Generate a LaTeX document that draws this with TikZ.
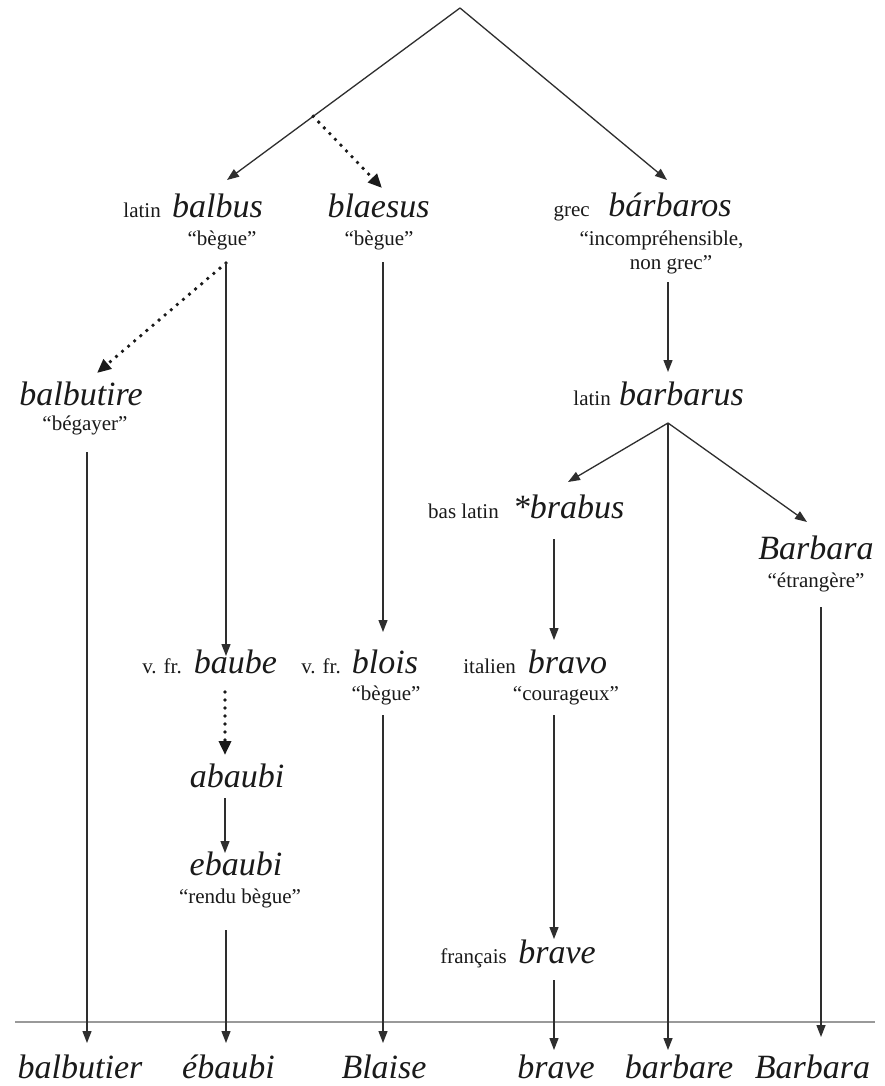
\documentclass[tikz,border=0pt]{standalone}
\usepackage{fontspec}
\setmainfont{Liberation Serif}
\usetikzlibrary{arrows.meta,calc}
\definecolor{ink}{HTML}{1A1A1A}
\definecolor{wire}{HTML}{2E2E2E}
\tikzset{
  word/.style={font=\fontsize{34}{40}\selectfont\itshape, text=ink, inner sep=0pt, anchor=base},
  gloss/.style={font=\fontsize{21}{25}\selectfont, text=ink, inner sep=0pt, anchor=base},
  lang/.style={gloss, anchor=base east},
  arr/.style={draw=wire, line width=1.3pt, -{Triangle[length=12pt,width=9pt]}},
  dots/.style={draw=ink, line width=3.8pt, line cap=round, dash pattern=on 0pt off 8pt,
    -{Triangle[length=14pt,width=12pt]}},
  rule/.style={draw=gray!80, line width=1.8pt}
}
\begin{document}
\begin{tikzpicture}[x=1pt,y=-1pt]
\fill[white] (0,0) rectangle (885,1086);
\useasboundingbox (0,0) rectangle (885,1086);

% ---- first level
\node[word] (balbus) at (217.5,217) {balbus};
\node[lang] (balbus-l) at (161,217) {latin};
\node[gloss] (balbus-g) at (222,245) {“bègue”};
\node[word] (blaesus) at (378.5,217) {blaesus};
\node[gloss] (blaesus-g) at (379,245) {“bègue”};
\node[word] (barbaros) at (670,216) {bárbaros};
\node[lang] (barbaros-l) at (590,216) {grec};
\node[gloss] (barbaros-g1) at (661.5,245) {“incompréhensible,};
\node[gloss] (barbaros-g2) at (671,269) {non grec”};

% ---- second level
\node[word] (balbutire) at (81,405) {balbutire};
\node[gloss] (balbutire-g) at (85,430) {“bégayer”};
\node[word] (barbarus) at (681.5,405) {barbarus};
\node[lang] (barbarus-l) at (611,405) {latin};

\node[word] (brabus) at (568.5,518) {*brabus};
\node[lang] (brabus-l) at (499,518) {bas latin};
\node[word] (Barbara) at (816,559) {Barbara};
\node[gloss] (Barbara-g) at (816,587) {“étrangère”};

% ---- old French / Italian
\node[word] (baube) at (235.5,673) {baube};
\node[lang] (baube-l) at (182,673) {v. fr.};
\node[word] (blois) at (385,673) {blois};
\node[lang] (blois-l) at (341,673) {v. fr.};
\node[gloss] (blois-g) at (386,700) {“bègue”};
\node[word] (bravo) at (567.5,673) {bravo};
\node[lang] (bravo-l) at (516,673) {italien};
\node[gloss] (bravo-g) at (566,700) {“courageux”};

\node[word] (abaubi) at (237,787) {abaubi};
\node[word] (ebaubi) at (236,875) {ebaubi};
\node[gloss] (ebaubi-g) at (240,903) {“rendu bègue”};
\node[word] (brave) at (557,963) {brave};
\node[lang] (brave-l) at (507,963) {français};

% ---- modern French
\node[word] (m-balbutier) at (80,1078) {balbutier};
\node[word] (m-ebaubi) at (228.5,1078) {ébaubi};
\node[word] (m-Blaise) at (384,1078) {Blaise};
\node[word] (m-brave) at (556,1078) {brave};
\node[word] (m-barbare) at (679,1078) {barbare};
\node[word] (m-Barbara) at (812.5,1078) {Barbara};

% ---- connector end points
\coordinate (root) at (460,8);
\coordinate (balbus-in) at (227,180);
\coordinate (barbaros-in) at (667,180);
\coordinate (blaesus-in) at (382,188);
\coordinate (balbus-out) at (226,263);
\coordinate (balbutire-in) at (97,373);
\coordinate (baube-in) at (226,656);
\coordinate (blaesus-out) at (383,262);
\coordinate (blois-in) at (383,632);
\coordinate (barbaros-out) at (668,282);
\coordinate (barbarus-in) at (668,372);
\coordinate (barbarus-out) at (668,423);
\coordinate (brabus-in) at (568,482);
\coordinate (Barbara-in) at (807,522);
\coordinate (brabus-out) at (554,539);
\coordinate (bravo-in) at (554,640);
\coordinate (bravo-out) at (554,715);
\coordinate (brave-in) at (554,939);
\coordinate (brave-out) at (554,980);
\coordinate (blois-out) at (383,715);
\coordinate (baube-out) at (225,692);
\coordinate (abaubi-in) at (225,755);
\coordinate (abaubi-out) at (225,798);
\coordinate (ebaubi-in) at (225,853);
\coordinate (ebaubi-out) at (226,930);
\coordinate (balbutire-out) at (87,452);
\coordinate (Barbara-out) at (821,607);
\coordinate (m-balbutier-in) at (87,1043);
\coordinate (m-ebaubi-in) at (226,1043);
\coordinate (m-Blaise-in) at (383,1043);
\coordinate (m-brave-in) at (554,1050);
\coordinate (m-barbare-in) at (668,1050);
\coordinate (m-Barbara-in) at (821,1037);
\coordinate (rule-a) at (15,1022);
\coordinate (rule-b) at (875,1022);

% ---- the time line of modern French
\draw[rule] (rule-a) -- (rule-b);

% ---- connectors
\draw[arr] (root) -- (balbus-in);
\draw[arr] (root) -- (barbaros-in);
\draw[dots] ($(root)!0.63!(balbus-in)$) -- (blaesus-in);

\draw[dots] (balbus-out) -- (balbutire-in);
\draw[arr] (balbus-out) -- (baube-in);
\draw[arr] (blaesus-out) -- (blois-in);
\draw[arr] (barbaros-out) -- (barbarus-in);

\draw[arr] (barbarus-out) -- (brabus-in);
\draw[arr] (barbarus-out) -- (Barbara-in);
\draw[arr] (barbarus-out) -- (m-barbare-in);

\draw[arr] (brabus-out) -- (bravo-in);
\draw[arr] (bravo-out) -- (brave-in);
\draw[arr] (brave-out) -- (m-brave-in);

\draw[dots] (baube-out) -- (abaubi-in);
\draw[arr] (abaubi-out) -- (ebaubi-in);
\draw[arr] (ebaubi-out) -- (m-ebaubi-in);
\draw[arr] (blois-out) -- (m-Blaise-in);
\draw[arr] (balbutire-out) -- (m-balbutier-in);
\draw[arr] (Barbara-out) -- (m-Barbara-in);
\end{tikzpicture}
\end{document}
